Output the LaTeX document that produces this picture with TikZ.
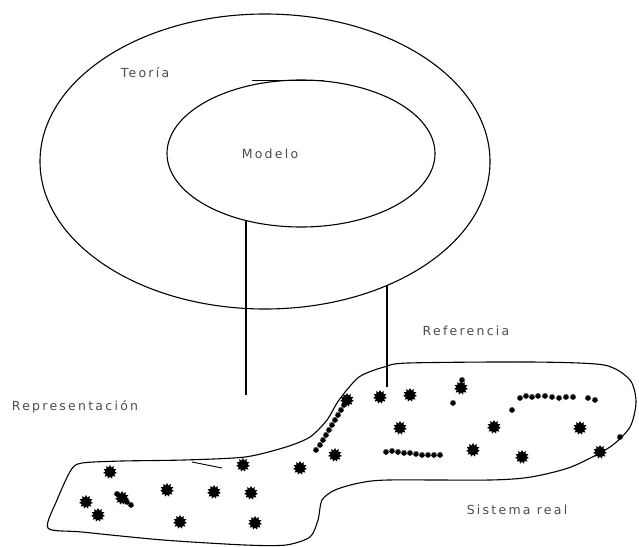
\documentclass[tikz,border=0pt]{standalone}
\usepackage{fontspec}
\setmainfont{DejaVu Sans}
\usetikzlibrary{shapes.geometric, positioning}

\begin{document}
\begin{tikzpicture}[
    x=1pt, y=-1pt,
    conjunto/.style={
        ellipse,
        draw,
        line width=1.1pt,
        inner sep=0pt
    },
    etiqueta/.style={
        text=black!70,
        inner sep=0pt,
        font=\fontsize{12.5}{14}\selectfont\addfontfeatures{LetterSpace=18}
    },
    enlace/.style={
        draw,
        line width=1.4pt
    },
    mancha/.style={
        star,
        star points=11,
        star point ratio=1.5,
        fill=black,
        inner sep=0pt,
        minimum size=14pt
    },
    traza/.style={
        mancha,
        minimum size=6.5pt
    }
]
    \useasboundingbox (0,0) rectangle (639,546);

    % --- Nodes ---

    % Theory and model
    \node [conjunto, minimum width=450pt, minimum height=295pt] (teoria) at (265,161.5) {};
    \node [conjunto, minimum width=268pt, minimum height=147pt] (modelo) at (301,153.5) {};
    \draw [line width=1.2pt] (252,80.5) -- (324,80.5);

    % Real system
    \draw [line width=1.1pt] plot [smooth cycle, tension=0.45] coordinates {
        (48,528) (57,500) (71,470) (82,463) (122,461) (184,460) (245,457)
        (286,447) (310,437) (327,420) (339,400) (359,377) (384,367) (408,363)
        (531,362) (604,365) (630,380) (636,402) (630,427) (610,447) (571,467)
        (531,477) (490,480) (388,480) (359,483) (335,490) (322,500) (318,520)
        (310,537) (286,545) (245,545) (163,540) (82,532)};
    \draw [line width=0.9pt] (192,462) -- (222,468);

    % Elements of the system
    \foreach \p [count=\i] in {(380,397), (410,395), (461,388), (347,400), (400,428),
        (494,427), (580,428), (473,450), (522,457), (600,452), (335,455), (243,465),
        (300,468), (110,472), (167,490), (214,492), (251,493), (86,502), (122,498),
        (98,515), (180,522), (255,523)}
        \node [mancha] (m\i) at \p {};
    \foreach \p [count=\i] in {(344,405), (341,410), (338,415), (335,420), (332,425),
        (329,430), (326,435), (323,440), (320,445), (316,450), (520,398), (526,396),
        (532,397), (538,396), (545,396), (552,397), (559,398), (566,397), (573,397),
        (588,398), (595,400), (386,452), (392,451), (398,452), (404,453), (410,453),
        (416,454), (422,455), (428,455), (434,455), (440,455), (117,494), (127,502),
        (131,505), (453,403), (512,410), (620,437), (462,380)}
        \node [traza] (t\i) at \p {};

    % --- Labels ---
    \node [etiqueta] (lteoria) at (145,73) {Teoría};
    \node [etiqueta] (lmodelo) at (270,154) {Modelo};
    \node [etiqueta] (lref) at (466,331) {Referencia};
    \node [etiqueta] (lrep) at (75,407) {Representación};
    \node [etiqueta] (lsis) at (517,510) {Sistema real};

    % --- Connections ---
    \coordinate (rep) at (246,395);
    \coordinate (ref) at (387,387);
    \draw [enlace] (rep) -- (rep |- modelo.-129.4);
    \draw [enlace] (ref) -- (ref |- teoria.-45.5);

\end{tikzpicture}
\end{document}
